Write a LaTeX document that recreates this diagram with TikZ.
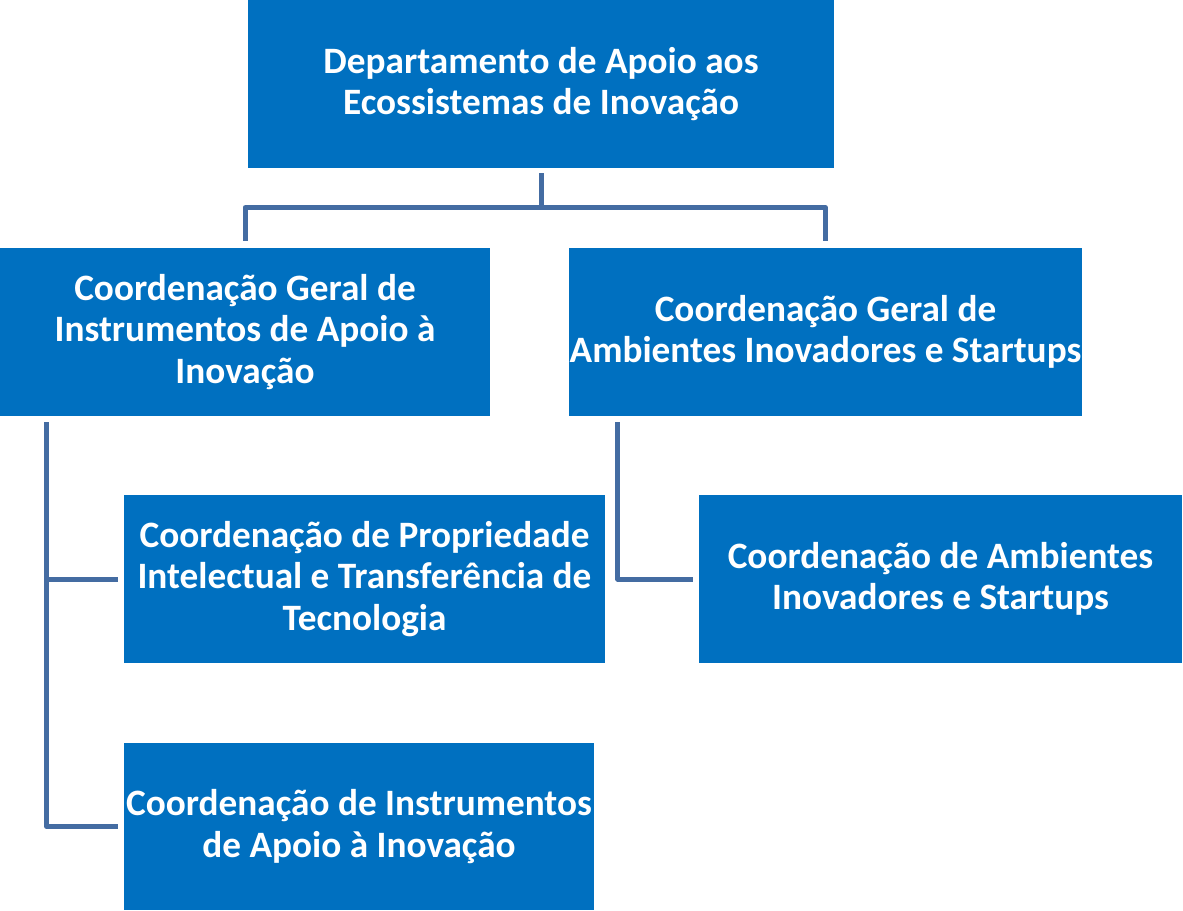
\documentclass[tikz,border=0pt]{standalone}
\usepackage{fontspec}
\setmainfont{Carlito}
\usetikzlibrary{positioning}
\definecolor{boxblue}{HTML}{0070C0}
\definecolor{lineblue}{RGB}{68,108,162}
\tikzset{
  unit/.style={fill=boxblue, text=white, font=\fontsize{21.2}{23.6}\selectfont\bfseries, align=center, inner sep=0pt, minimum height=3.36cm},
  conn/.style={draw=lineblue, line width=0.1cm, line join=round}
}
\begin{document}
\begin{tikzpicture}[x=0.02cm, y=-0.02cm]
\useasboundingbox (0,0) rectangle (1183,910);
\node[unit, minimum width=11.72cm] (dep) at (541,84) {Departamento de Apoio aos\\Ecossistemas de Inovação};
\node[unit, minimum width=9.8cm] (cgi) at (245,332) {Coordenação Geral de\\Instrumentos de Apoio à\\Inovação};
\node[unit, minimum width=10.26cm] (cga) at (825.5,332) {Coordenação Geral de\\Ambientes Inovadores e Startups};
\node[unit, minimum width=9.62cm] (cpi) at (364.5,579) {Coordenação de Propriedade\\Intelectual e Transferência de\\Tecnologia};
\node[unit, minimum width=9.4cm, minimum height=3.34cm] (cia) at (359,826.5) {Coordenação de Instrumentos\\de Apoio à Inovação};
\node[unit, minimum width=9.66cm] (cai) at (940.5,579) {Coordenação de Ambientes\\Inovadores e Startups};
% top level
\draw[conn] ([yshift=-1mm]dep.south) -- ++(0,34);
\draw[conn] ([yshift=1.4mm]cgi.north) |- ([yshift=0.8cm]cga.north) -- ([yshift=1.4mm]cga.north);
% left branch
\draw[conn] ([xshift=0.94cm,yshift=-1.2mm]cgi.south west) |- ([xshift=-1.2mm]cpi.west);
\draw[conn] ([xshift=0.94cm,yshift=-1.2mm]cgi.south west) |- ([xshift=-1.2mm]cia.west);
% right branch
\draw[conn] ([xshift=0.98cm,yshift=-1.2mm]cga.south west) |- ([xshift=-1.2mm]cai.west);
\end{tikzpicture}
\end{document}
